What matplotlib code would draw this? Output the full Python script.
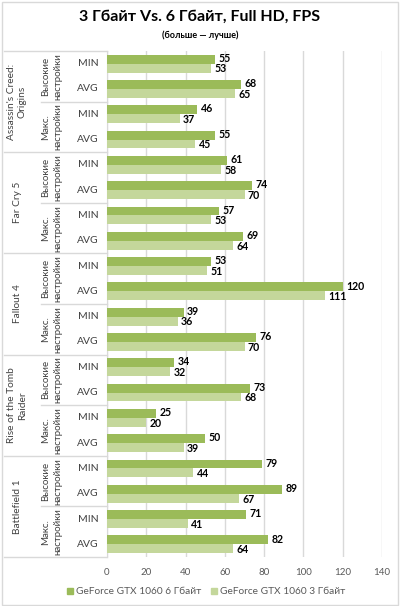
import matplotlib
matplotlib.use("Agg")
import matplotlib.pyplot as plt
import matplotlib.transforms as mtransforms
from matplotlib.patches import Rectangle

plt.rcParams['font.family'] = ['Lato', 'DejaVu Sans']

# data
games = ["Assassin's Creed:\nOrigins", "Far Cry 5", "Fallout 4",
         "Rise of the Tomb\nRaider", "Battlefield 1"]
settings = ["Высокие\nнастройки", "Макс.\nнастройки"]
metrics = ["MIN", "AVG"]
gtx_6gb = [55, 68, 46, 55,
           61, 74, 57, 69,
           53, 120, 39, 76,
           34, 73, 25, 50,
           79, 89, 71, 82]
gtx_3gb = [53, 65, 37, 45,
           58, 70, 53, 64,
           51, 111, 36, 70,
           32, 68, 20, 39,
           44, 67, 41, 64]
series_names = ["GeForce GTX 1060 6 Гбайт", "GeForce GTX 1060 3 Гбайт"]
xticks = [0, 20, 40, 60, 80, 100, 120, 140]

dark = "#9BBB59"
light = "#C4D79B"
grid_c = "#D9D9D9"
text_c = "#404040"

fig = plt.figure(figsize=(4.0, 6.06), dpi=100)
ax = fig.add_axes([107/400, 1-557/606, 275/400, 506/606])

n = len(gtx_6gb)
pos = list(range(n))
h = 0.35
ax.barh([p - h/2 for p in pos], gtx_6gb, height=h, color=dark, zorder=3)
ax.barh([p + h/2 for p in pos], gtx_3gb, height=h, color=light, zorder=3)

# value labels, nudged apart a little so the pairs don't collide
for p, v in zip(pos, gtx_6gb):
    ax.annotate(str(v), (v, p - h/2), xytext=(2.5, 0.6), textcoords='offset points',
                va='center', ha='left', fontsize=7.6, fontweight='bold', color='black')
for p, v in zip(pos, gtx_3gb):
    ax.annotate(str(v), (v, p + h/2), xytext=(2.5, -0.6), textcoords='offset points',
                va='center', ha='left', fontsize=7.6, fontweight='bold', color='black')

ax.set_xlim(0, 140)
ax.set_ylim(n - 0.5, -0.5)
ax.set_xticks(xticks)
ax.set_xticklabels([str(t) for t in xticks], fontsize=7, color="#595959")
ax.set_yticks([])
ax.tick_params(axis='x', length=0, pad=8)
ax.grid(axis='x', color=grid_c, linewidth=1, zorder=0)
for s in ['top', 'right', 'bottom']:
    ax.spines[s].set_visible(False)
ax.spines['left'].set_color(grid_c)

# multi-level category labels
tr = mtransforms.blended_transform_factory(ax.transAxes, ax.transData)
for i in range(n):
    ax.text(-0.069, i, metrics[i % 2], transform=tr, ha='center', va='center',
            fontsize=7.5, color=text_c)
for j in range(n // 2):
    ax.text(-0.2, 2*j + 0.5, settings[j % 2], transform=tr, ha='center', va='center',
            rotation=90, fontsize=7, color=text_c, linespacing=1.45)
for k, g in enumerate(games):
    ax.text(-0.327, 4*k + 1.5, g, transform=tr, ha='center', va='center',
            rotation=90, fontsize=7.3, color=text_c, linespacing=1.2)

for j in range(1, n // 2):
    if j % 2 == 1:
        ax.plot([-0.24, 0], [2*j - 0.5]*2, transform=tr, color=grid_c, lw=1, clip_on=False)
for k in range(len(games) + 1):
    ax.plot([-0.3745, 0], [4*k - 0.5]*2, transform=tr, color=grid_c, lw=1, clip_on=False)

# title
fig.text(0.5, 1-17/606, "3 Гбайт Vs. 6 Гбайт, Full HD, FPS", ha='center', va='center',
         fontsize=11.5, fontweight='bold', color='black')
fig.text(0.5, 1-35/606, "(больше — лучше)", ha='center', va='center',
         fontsize=6.5, fontweight='bold', color='black')

# legend
ly = 1 - 591/606
for x0, name, c in [(70, series_names[0], dark), (214, series_names[1], light)]:
    fig.patches.append(Rectangle((x0/400 - 3/400, ly - 3/606), 6/400, 6/606,
                                 transform=fig.transFigure, color=c))
    fig.text(x0/400 + 6/400, ly, name, ha='left', va='center', fontsize=7.3, color="#595959")

# outer frame
fig.patches.append(Rectangle((2/400, 1/606), 396/400, 603/606, transform=fig.transFigure,
                             fill=False, edgecolor=grid_c, lw=1))

fig.savefig("out.png", dpi=100)
